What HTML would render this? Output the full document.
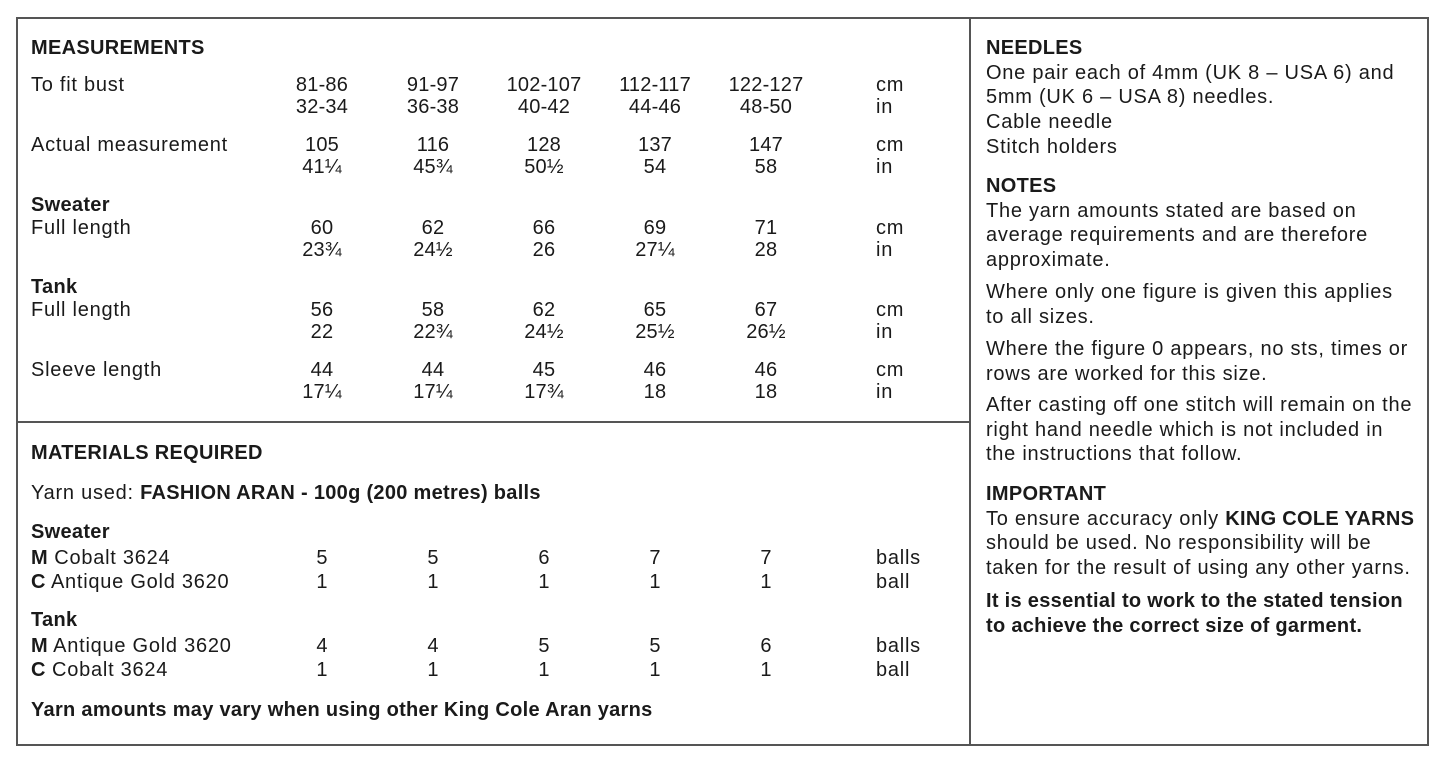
<!DOCTYPE html>
<html><head><meta charset="utf-8"><style>
body{margin:0;width:1445px;height:765px;background:#fff;position:relative;overflow:hidden;font-family:"Liberation Sans",Arial,sans-serif;font-size:20px;color:#1a1a1a;letter-spacing:0.75px}
.b{position:absolute;background:#555}
.t{position:absolute;line-height:22px;white-space:nowrap}
.c{position:absolute;line-height:22px;width:120px;text-align:center;white-space:nowrap;letter-spacing:0.2px}
b{font-weight:bold;letter-spacing:0.3px}
</style></head><body>
<div class="b" style="left:17px;top:17px;width:1412px;height:2px"></div>
<div class="b" style="left:17px;top:744px;width:1412px;height:2px"></div>
<div class="b" style="left:16px;top:17px;width:2px;height:729px"></div>
<div class="b" style="left:1427px;top:17px;width:2px;height:729px"></div>
<div class="b" style="left:969px;top:17px;width:2px;height:729px"></div>
<div class="b" style="left:17px;top:421px;width:953px;height:2px"></div>

<div class="t" style="left:31px;top:37px"><b>MEASUREMENTS</b></div>
<div class="t" style="left:31px;top:74px">To fit bust</div>
<div class="c" style="left:262px;top:74px">81-86<br>32-34</div>
<div class="c" style="left:373px;top:74px">91-97<br>36-38</div>
<div class="c" style="left:484px;top:74px">102-107<br>40-42</div>
<div class="c" style="left:595px;top:74px">112-117<br>44-46</div>
<div class="c" style="left:706px;top:74px">122-127<br>48-50</div>
<div class="t" style="left:876px;top:74px">cm<br>in</div>

<div class="t" style="left:31px;top:134px">Actual measurement</div>
<div class="c" style="left:262px;top:134px">105<br>41¼</div>
<div class="c" style="left:373px;top:134px">116<br>45¾</div>
<div class="c" style="left:484px;top:134px">128<br>50½</div>
<div class="c" style="left:595px;top:134px">137<br>54</div>
<div class="c" style="left:706px;top:134px">147<br>58</div>
<div class="t" style="left:876px;top:134px">cm<br>in</div>

<div class="t" style="left:31px;top:194px"><b>Sweater</b></div>
<div class="t" style="left:31px;top:217px">Full length</div>
<div class="c" style="left:262px;top:217px">60<br>23¾</div>
<div class="c" style="left:373px;top:217px">62<br>24½</div>
<div class="c" style="left:484px;top:217px">66<br>26</div>
<div class="c" style="left:595px;top:217px">69<br>27¼</div>
<div class="c" style="left:706px;top:217px">71<br>28</div>
<div class="t" style="left:876px;top:217px">cm<br>in</div>

<div class="t" style="left:31px;top:276px"><b>Tank</b></div>
<div class="t" style="left:31px;top:299px">Full length</div>
<div class="c" style="left:262px;top:299px">56<br>22</div>
<div class="c" style="left:373px;top:299px">58<br>22¾</div>
<div class="c" style="left:484px;top:299px">62<br>24½</div>
<div class="c" style="left:595px;top:299px">65<br>25½</div>
<div class="c" style="left:706px;top:299px">67<br>26½</div>
<div class="t" style="left:876px;top:299px">cm<br>in</div>

<div class="t" style="left:31px;top:359px">Sleeve length</div>
<div class="c" style="left:262px;top:359px">44<br>17¼</div>
<div class="c" style="left:373px;top:359px">44<br>17¼</div>
<div class="c" style="left:484px;top:359px">45<br>17¾</div>
<div class="c" style="left:595px;top:359px">46<br>18</div>
<div class="c" style="left:706px;top:359px">46<br>18</div>
<div class="t" style="left:876px;top:359px">cm<br>in</div>

<div class="t" style="left:31px;top:442px"><b>MATERIALS REQUIRED</b></div>
<div class="t" style="left:31px;top:482px">Yarn used: <b>FASHION ARAN - 100g (200 metres) balls</b></div>
<div class="t" style="left:31px;top:521px"><b>Sweater</b></div>
<div class="t" style="left:31px;top:546px;line-height:24px"><b>M</b> Cobalt 3624<br><b>C</b> Antique Gold 3620</div>
<div class="c" style="left:262px;top:546px;line-height:24px">5<br>1</div>
<div class="c" style="left:373px;top:546px;line-height:24px">5<br>1</div>
<div class="c" style="left:484px;top:546px;line-height:24px">6<br>1</div>
<div class="c" style="left:595px;top:546px;line-height:24px">7<br>1</div>
<div class="c" style="left:706px;top:546px;line-height:24px">7<br>1</div>
<div class="t" style="left:876px;top:546px;line-height:24px">balls<br>ball</div>

<div class="t" style="left:31px;top:609px"><b>Tank</b></div>
<div class="t" style="left:31px;top:634px;line-height:24px"><b>M</b> Antique Gold 3620<br><b>C</b> Cobalt 3624</div>
<div class="c" style="left:262px;top:634px;line-height:24px">4<br>1</div>
<div class="c" style="left:373px;top:634px;line-height:24px">4<br>1</div>
<div class="c" style="left:484px;top:634px;line-height:24px">5<br>1</div>
<div class="c" style="left:595px;top:634px;line-height:24px">5<br>1</div>
<div class="c" style="left:706px;top:634px;line-height:24px">6<br>1</div>
<div class="t" style="left:876px;top:634px;line-height:24px">balls<br>ball</div>

<div class="t" style="left:31px;top:699px"><b>Yarn amounts may vary when using other King Cole Aran yarns</b></div>

<div class="t" style="left:986px;top:36px;line-height:24.7px"><b>NEEDLES</b><br>One pair each of 4mm (UK 8 – USA 6) and<br>5mm (UK 6 – USA 8) needles.<br>Cable needle<br>Stitch holders</div>
<div class="t" style="left:986px;top:174px;line-height:24.7px"><b>NOTES</b><br>The yarn amounts stated are based on<br>average requirements and are therefore<br>approximate.</div>
<div class="t" style="left:986px;top:280px;line-height:24.5px">Where only one figure is given this applies<br>to all sizes.</div>
<div class="t" style="left:986px;top:337px;line-height:24.5px">Where the figure 0 appears, no sts, times or<br>rows are worked for this size.</div>
<div class="t" style="left:986px;top:393px;line-height:24.5px">After casting off one stitch will remain on the<br>right hand needle which is not included in<br>the instructions that follow.</div>
<div class="t" style="left:986px;top:482px;line-height:24.7px"><b>IMPORTANT</b><br>To ensure accuracy only <b>KING COLE YARNS</b><br>should be used. No responsibility will be<br>taken for the result of using any other yarns.</div>
<div class="t" style="left:986px;top:589px;line-height:24.5px"><b>It is essential to work to the stated tension<br>to achieve the correct size of garment.</b></div>
</body></html>
